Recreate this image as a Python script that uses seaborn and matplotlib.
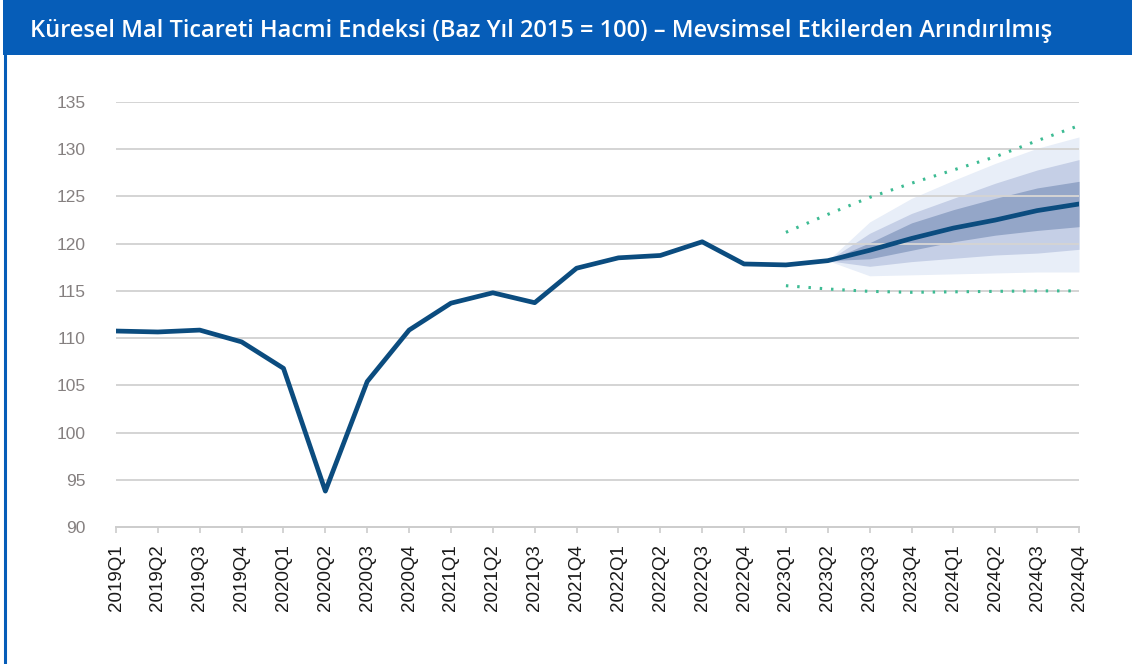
import numpy as np
import pandas as pd
import matplotlib
matplotlib.use("Agg")
import matplotlib.pyplot as plt
from matplotlib.patches import Rectangle
from matplotlib.lines import Line2D
import seaborn as sns

# ---------------- data ----------------
quarters = ["2019Q1", "2019Q2", "2019Q3", "2019Q4",
            "2020Q1", "2020Q2", "2020Q3", "2020Q4",
            "2021Q1", "2021Q2", "2021Q3", "2021Q4",
            "2022Q1", "2022Q2", "2022Q3", "2022Q4",
            "2023Q1", "2023Q2", "2023Q3", "2023Q4",
            "2024Q1", "2024Q2", "2024Q3", "2024Q4"]
volume = [110.75, 110.65, 110.85, 109.6,
          106.8, 93.8, 105.4, 110.85,
          113.7, 114.8, 113.75, 117.4,
          118.5, 118.75, 120.2, 117.85,
          117.75, 118.2, 119.3, 120.55,
          121.65, 122.5, 123.5, 124.2]

fan_quarters = ["2023Q2", "2023Q3", "2023Q4", "2024Q1", "2024Q2", "2024Q3", "2024Q4"]
outer_hi = [118.2, 122.3, 124.8, 126.7, 128.5, 130.1, 131.3]
outer_lo = [118.2, 116.6, 116.7, 116.8, 116.9, 117.0, 117.0]
mid_hi = [118.2, 121.1, 123.2, 124.8, 126.4, 127.8, 128.9]
mid_lo = [118.2, 117.6, 118.1, 118.45, 118.8, 119.0, 119.4]
inner_hi = [118.2, 120.1, 122.2, 123.6, 124.8, 125.9, 126.6]
inner_lo = [118.2, 118.4, 119.3, 120.2, 120.9, 121.4, 121.8]

band_quarters = ["2023Q1", "2023Q2", "2023Q3", "2023Q4", "2024Q1", "2024Q2", "2024Q3", "2024Q4"]
upper_dotted = [121.2, 123.1, 124.9, 126.4, 127.8, 129.2, 130.9, 132.5]
lower_dotted = [115.55, 115.2, 114.95, 114.85, 114.9, 114.95, 115.0, 115.0]

yticks = [90, 95, 100, 105, 110, 115, 120, 125, 130, 135]
title = "Küresel Mal Ticareti Hacmi Endeksi (Baz Yıl 2015 = 100) – Mevsimsel Etkilerden Arındırılmış"

# ---------------- style ----------------
sns.set_theme(style="white")
plt.rcParams["font.family"] = ["Liberation Sans", "DejaVu Sans"]

W, H = 1132, 664
fig = plt.figure(figsize=(W / 100, H / 100), dpi=100)
fig.patch.set_facecolor("white")

# Title bar and frame
blue = "#065db8"
fig.add_artist(Rectangle((3 / W, 1 - 55 / H), 1 - 3 / W, 55 / H, transform=fig.transFigure,
                         facecolor=blue, edgecolor="none", zorder=0))
fig.add_artist(Line2D([4.5 / W, 4.5 / W], [0, 1 - 55 / H], transform=fig.transFigure,
                      color=blue, lw=2.2))
fig.text(30 / W, 1 - 31 / H, title, color="white", fontsize=17.0, fontweight="semibold",
         family=["Open Sans", "DejaVu Sans"], va="center", ha="left")

ax = fig.add_axes([116 / W, 1 - 527 / H, (1079 - 116) / W, (527 - 102) / H])
pos = {q: i for i, q in enumerate(quarters)}

df = pd.DataFrame({"x": [pos[q] for q in quarters], "v": volume})
fx = [pos[q] for q in fan_quarters]
bx = [pos[q] for q in band_quarters]

ax.fill_between(fx, outer_lo, outer_hi, color="#e8eef8", lw=0, zorder=1)
ax.fill_between(fx, mid_lo, mid_hi, color="#c5cfe6", lw=0, zorder=1.1)
ax.fill_between(fx, inner_lo, inner_hi, color="#94a6c8", lw=0, zorder=1.2)

sns.lineplot(data=df, x="x", y="v", ax=ax, color="#0b4c7f", lw=3.4, zorder=4,
             solid_joinstyle="round", solid_capstyle="round")
ax.plot(bx, upper_dotted, color="#3dbb93", lw=2.2, ls=(0, (0.8, 2.9)), zorder=4,
        dash_capstyle="butt")
ax.plot(bx, lower_dotted, color="#3dbb93", lw=2.2, ls=(0, (0.8, 2.9)), zorder=4,
        dash_capstyle="butt")

ax.set_xlim(0, len(quarters) - 1)
ax.set_ylim(90, 135)
ax.set_yticks(yticks)
ax.set_xticks(range(len(quarters)))
ax.set_xticklabels(quarters, rotation=90)
ax.set_xlabel("")
ax.set_ylabel("")

for y in yticks[1:]:
    ax.axhline(y, color="#d4d4d4", lw=1.4, zorder=2)

for s in ["top", "right", "left"]:
    ax.spines[s].set_visible(False)
ax.spines["bottom"].set_color("#cccccc")
ax.spines["bottom"].set_linewidth(1.4)
ax.spines["bottom"].set_zorder(2)

ax.tick_params(axis="y", length=0, pad=22, labelsize=12.5, labelcolor="#858080")
ax.tick_params(axis="x", length=4.5, width=1.2, color="#cccccc", pad=8,
               labelsize=13.5, labelcolor="#1a1a1a", bottom=True)
ax.set_facecolor("white")

fig.savefig("out.png", dpi=100)
